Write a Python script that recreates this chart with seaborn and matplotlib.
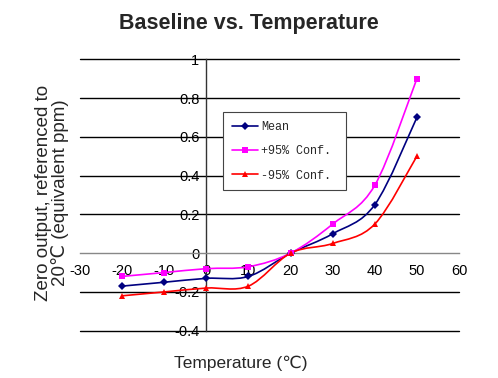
import matplotlib
matplotlib.use("Agg")
import matplotlib.pyplot as plt
from matplotlib.path import Path
from matplotlib.patches import PathPatch
import seaborn as sns
import pandas as pd

temps = [-20, -10, 0, 10, 20, 30, 40, 50]
mean_vals = [-0.17, -0.15, -0.13, -0.12, 0.0, 0.10, 0.25, 0.70]
upper_vals = [-0.12, -0.10, -0.08, -0.07, 0.0, 0.15, 0.35, 0.90]
lower_vals = [-0.22, -0.20, -0.18, -0.17, 0.0, 0.05, 0.15, 0.50]
series_names = ["Mean", "+95% Conf.", "-95% Conf."]
xticks = [-30, -20, -10, 0, 10, 20, 30, 40, 50, 60]
yticks = [-0.4, -0.2, 0, 0.2, 0.4, 0.6, 0.8, 1.0]
ytick_labels = ["-0.4", "-0.2", "0", "0.2", "0.4", "0.6", "0.8", "1"]
xtick_labels = ["-30", "-20", "-10", "0", "10", "20", "30", "40", "50", "60"]

sns.set_style("white")
plt.rcParams["font.family"] = ["Liberation Sans", "DejaVu Sans"]

series_vals = [mean_vals, upper_vals, lower_vals]
df = pd.concat([
    pd.DataFrame({"T": temps, "v": vals, "s": name})
    for name, vals in zip(series_names, series_vals)
])

colors = ["#000080", "#FF00FF", "#FF0000"]
palette = dict(zip(series_names, colors))
markers = dict(zip(series_names, ["D", "s", "^"]))

fig = plt.figure(figsize=(4.98, 3.78), dpi=100)
ax = fig.add_axes([80/498, 1-330.7/378, 379/498, 271.4/378])

sns.lineplot(data=df, x="T", y="v", hue="s", style="s", palette=palette,
             markers=markers, dashes=False, linewidth=1.2, markersize=4,
             markeredgewidth=0, ax=ax, zorder=4)

handles, labels = ax.get_legend_handles_labels()
# keep markers from seaborn; draw smoothed (Excel-style) connecting curves
for ln in ax.lines:
    if len(ln.get_xdata()) > 0:
        ln.set_linestyle("None")
for h in handles:
    h.set_linestyle("-")
    h.set_linewidth(1.2)


def smooth_path(xs, ys):
    pts = list(zip(xs, ys))
    n = len(pts)
    verts = [pts[0]]
    codes = [Path.MOVETO]
    for i in range(n - 1):
        p0 = pts[i - 1] if i > 0 else pts[i]
        p1 = pts[i]
        p2 = pts[i + 1]
        p3 = pts[i + 2] if i + 2 < n else pts[i + 1]
        c1 = (p1[0] + (p2[0] - p0[0]) / 6, p1[1] + (p2[1] - p0[1]) / 6)
        c2 = (p2[0] - (p3[0] - p1[0]) / 6, p2[1] - (p3[1] - p1[1]) / 6)
        verts += [c1, c2, p2]
        codes += [Path.CURVE4] * 3
    return Path(verts, codes)


for vals, col in zip(series_vals, colors):
    ax.add_patch(PathPatch(smooth_path(temps, vals), facecolor="none",
                           edgecolor=col, linewidth=1.2, zorder=3))

ax.set_xlim(-30, 60)
ax.set_ylim(-0.4, 1.0)
ax.set_xticks(xticks)
ax.set_xticklabels(xtick_labels)
ax.set_yticks(yticks)
ax.set_yticklabels(ytick_labels)

for y in yticks:
    if y != 0:
        ax.axhline(y, color="black", linewidth=1.0, zorder=1, clip_on=False)

ax.spines["left"].set_position(("data", 0))
ax.spines["bottom"].set_position(("data", 0))
ax.spines["top"].set_visible(False)
ax.spines["right"].set_visible(False)
ax.spines["left"].set_color("#333333")
ax.spines["bottom"].set_color("#888888")
ax.spines["left"].set_linewidth(1.0)
ax.spines["bottom"].set_linewidth(1.0)

ax.tick_params(axis="x", direction="out", length=3, width=0.8, color="#888888",
               pad=5, labelsize=10.5, labelcolor="black")
ax.tick_params(axis="y", direction="in", length=4, width=0.8, color="#333333",
               pad=5, labelsize=10.5, labelcolor="black")

ax.set_xlabel("")
ax.set_ylabel("")

fig.text(248.5/498, 1-24/378, "Baseline vs. Temperature", ha="center", va="center",
         fontsize=15.5, fontweight="bold")
fig.text(241/498, 1-363/378, "Temperature (\u2103)", ha="center", va="center", fontsize=12.5)
fig.text(52/498, 1-193/378, "Zero output, referenced to\n20\u2103 (equivalent ppm)",
         ha="center", va="center", rotation=90, fontsize=13.5, linespacing=0.95)

leg = ax.legend(handles, labels, loc="upper left",
                bbox_to_anchor=(0.377, 0.806, 0.325, 0.0), mode="expand",
                borderaxespad=0, frameon=True, fancybox=False, framealpha=1,
                edgecolor="#444444", handlelength=2.2, labelspacing=1.05,
                borderpad=0.75, handletextpad=0.3,
                prop={"family": "Liberation Mono", "size": 8.5})
leg.get_frame().set_linewidth(0.8)
leg.set_zorder(5)

fig.savefig("out.png", dpi=100)
